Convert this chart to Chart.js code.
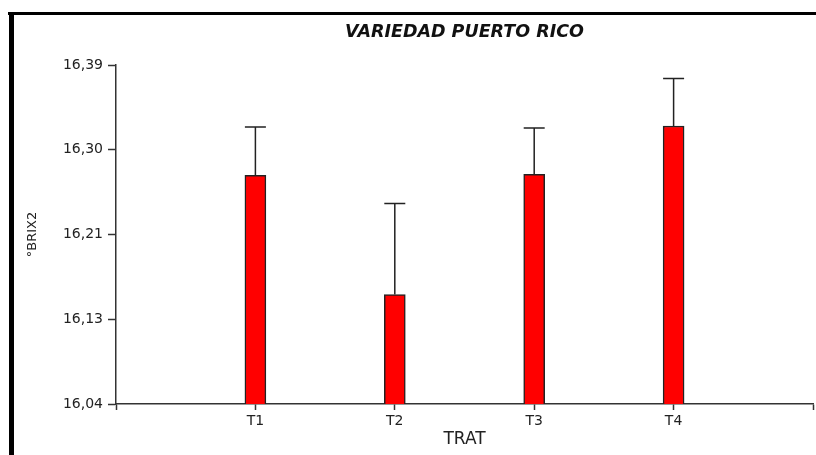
<!DOCTYPE html>
<html>
<head>
<meta charset="utf-8">
<script src="https://cdn.jsdelivr.net/npm/chart.js@4.4.1/dist/chart.umd.min.js"></script>
<style>
  html, body { margin: 0; padding: 0; background: #fff; }
  #wrap { position: relative; width: 816px; height: 455px; overflow: hidden; }
  #c { position: absolute; left: 0; top: 0; }
  #frameTop { position: absolute; left: 8px; top: 12px; right: 0; height: 3px; background: #000; }
  #frameLeft { position: absolute; left: 9px; top: 12px; bottom: 0; width: 5px; background: #000; }
</style>
</head>
<body>
<div id="wrap">
  <canvas id="c" width="816" height="455"></canvas>
  <div id="frameTop"></div>
  <div id="frameLeft"></div>
</div>
<script>
// ---- data ----
const categories = ["T1", "T2", "T3", "T4"];
const means = [16.276, 16.153, 16.277, 16.327];
const errors = [0.050, 0.094, 0.048, 0.049];
const yTickLabels = ["16,04", "16,13", "16,21", "16,30", "16,39"];
const yMin = 16.04;
const yMax = 16.39;
const chartTitle = "VARIEDAD PUERTO RICO";
const xTitle = "TRAT";
const yTitle = "°BRIX2";

// category slots: an empty slot at each end so the axis spans 0..5
const labels = [""].concat(categories, [""]);
const barData = [null].concat(means, [null]);
const errData = [null].concat(errors, [null]);

const FONT = "'DejaVu Sans', Verdana, sans-serif";

const errorBarPlugin = {
  id: "errorBars",
  afterDatasetsDraw(chart) {
    const ctx = chart.ctx;
    const meta = chart.getDatasetMeta(0);
    const ys = chart.scales.y;
    ctx.save();
    ctx.strokeStyle = "#222";
    ctx.lineWidth = 1.5;
    meta.data.forEach((bar, i) => {
      const v = barData[i];
      const e = errData[i];
      if (v === null || e === null) return;
      const yTop = ys.getPixelForValue(v + e);
      const yBar = ys.getPixelForValue(v);
      const half = bar.width / 2;
      ctx.beginPath();
      ctx.moveTo(bar.x, yBar);
      ctx.lineTo(bar.x, yTop);
      ctx.moveTo(bar.x - half, yTop);
      ctx.lineTo(bar.x + half, yTop);
      ctx.stroke();
    });
    ctx.restore();
  }
};

new Chart(document.getElementById("c"), {
  type: "bar",
  data: {
    labels: labels,
    datasets: [{
      data: barData,
      backgroundColor: "#ff0000",
      borderColor: "#222",
      borderWidth: 1.5,
      barThickness: 21,
      borderSkipped: "start"
    }]
  },
  options: {
    responsive: false,
    animation: false,
    layout: { padding: { left: 0, right: 1, top: 0, bottom: 0 } },
    plugins: {
      legend: { display: false },
      tooltip: { enabled: false },
      title: {
        display: true,
        text: chartTitle,
        fullSize: false,
        color: "#111",
        font: { family: FONT, size: 17.5, weight: "bold", style: "italic" },
        padding: { top: 22, bottom: 22 }
      }
    },
    scales: {
      x: {
        type: "category",
        offset: false,
        grid: { display: true, offset: false, drawOnChartArea: false, drawTicks: true, tickLength: 6, color: "#333", tickWidth: 1.5 },
        border: { display: true, color: "#333", width: 1.5 },
        ticks: {
          color: "#222",
          padding: 3,
          maxRotation: 0,
          autoSkip: false,
          font: { family: FONT, size: 14 }
        },
        title: {
          display: true,
          text: xTitle,
          color: "#222",
          font: { family: FONT, size: 17 },
          padding: { top: 0, bottom: 5 }
        },
        afterFit(scale) { scale.height = 51; }
      },
      y: {
        type: "linear",
        min: yMin,
        max: yMax,
        ticks: {
          stepSize: 0.0875,
          color: "#222",
          padding: 5,
          font: { family: FONT, size: 14 },
          callback: function (value, index) { return yTickLabels[index]; }
        },
        grid: { display: true, drawOnChartArea: false, drawTicks: true, tickLength: 8, color: "#333", tickWidth: 1.5 },
        border: { display: true, color: "#333", width: 1.5 },
        title: {
          display: true,
          text: yTitle,
          color: "#222",
          font: { family: FONT, size: 13 },
          padding: { top: 25, bottom: 0 }
        },
        afterFit(scale) { scale.width = 116; }
      }
    }
  },
  plugins: [errorBarPlugin]
});
</script>
</body>
</html>
